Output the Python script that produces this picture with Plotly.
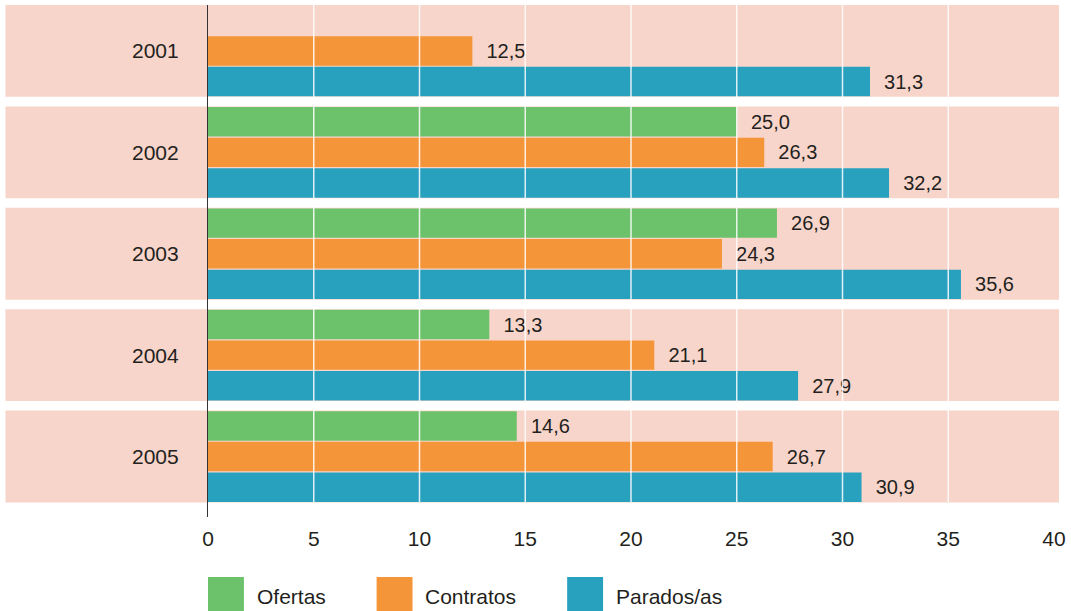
import plotly.graph_objects as go

# Data
years = ["2001", "2002", "2003", "2004", "2005"]
ofertas = [None, 25.0, 26.9, 13.3, 14.6]
contratos = [12.5, 26.3, 24.3, 21.1, 26.7]
parados = [31.3, 32.2, 35.6, 27.9, 30.9]
series_names = ["Ofertas", "Contratos", "Parados/as"]
x_ticks = [0, 5, 10, 15, 20, 25, 30, 35, 40]

colors = ["#6CC26B", "#F5953A", "#28A1BF"]
band_color = "#F8D5CA"
text_color = "#231F20"
font_family = "Liberation Sans, Arial, sans-serif"

W, H = 1071, 611
ML, MR, MT, MB = 208, 10, 5, 94
plot_w = W - ML - MR
plot_h = H - MT - MB
x_max = 40 * plot_w / (plot_w - 5)

fig = go.Figure()
for name, vals, col in zip(series_names, [ofertas, contratos, parados], colors):
    fig.add_trace(go.Bar(
        y=years, x=vals, name=name, orientation="h",
        marker=dict(color=col, line=dict(width=0)),
        texttemplate="\u00a0\u00a0%{x:.1f}", textposition="outside",
        textfont=dict(size=20, color=text_color, family=font_family),
        cliponaxis=False, showlegend=False,
    ))

half_band = 0.453
shapes = []
# pink band behind each year group, running under the year label
for i, _ in enumerate(years):
    shapes.append(dict(
        type="rect", layer="below", xref="paper", yref="y",
        x0=(5 - ML) / plot_w, x1=1, y0=i - half_band, y1=i + half_band,
        fillcolor=band_color, line=dict(width=0),
    ))
# white grid lines drawn over the bars
for t in x_ticks[1:-1]:
    shapes.append(dict(
        type="line", layer="above", xref="x", yref="paper",
        x0=t, x1=t, y0=(517 - 502) / plot_h, y1=1,
        line=dict(color="rgba(255,255,255,0.85)", width=1.5),
    ))

# legend: coloured squares with labels below the axis
legend_x = [208, 377, 568]
annotations = []
for name, col, px in zip(series_names, colors, legend_x):
    shapes.append(dict(
        type="rect", xref="paper", yref="paper",
        x0=(px - ML) / plot_w, x1=(px + 36 - ML) / plot_w,
        y0=(517 - 612) / plot_h, y1=(517 - 577) / plot_h,
        fillcolor=col, line=dict(width=0),
    ))
    annotations.append(dict(
        text=name, xref="paper", yref="paper",
        x=(px + 47 - ML) / plot_w, y=(517 - 596) / plot_h,
        xanchor="left", yanchor="middle", showarrow=False,
        font=dict(size=21, color=text_color, family=font_family),
    ))

fig.update_layout(
    width=W, height=H,
    margin=dict(l=ML, r=MR, t=MT, b=MB),
    paper_bgcolor="white", plot_bgcolor="white",
    barmode="group", bargap=0.094, bargroupgap=0.04,
    separators=", ",
    shapes=shapes, annotations=annotations,
    font=dict(family=font_family, color=text_color),
    xaxis=dict(
        range=[0, x_max], tickvals=x_ticks, ticktext=[str(t) for t in x_ticks],
        showgrid=False, zeroline=False, showline=False, ticks="",
        tickfont=dict(size=21, color=text_color), ticklabelstandoff=7,
    ),
    yaxis=dict(
        range=[4 + 0.596, -half_band], showgrid=False, zeroline=False,
        showline=True, linecolor="#333333", linewidth=1.2, ticks="",
        tickfont=dict(size=21, color=text_color), ticklabelstandoff=24,
    ),
)

fig.write_html("out.html")
